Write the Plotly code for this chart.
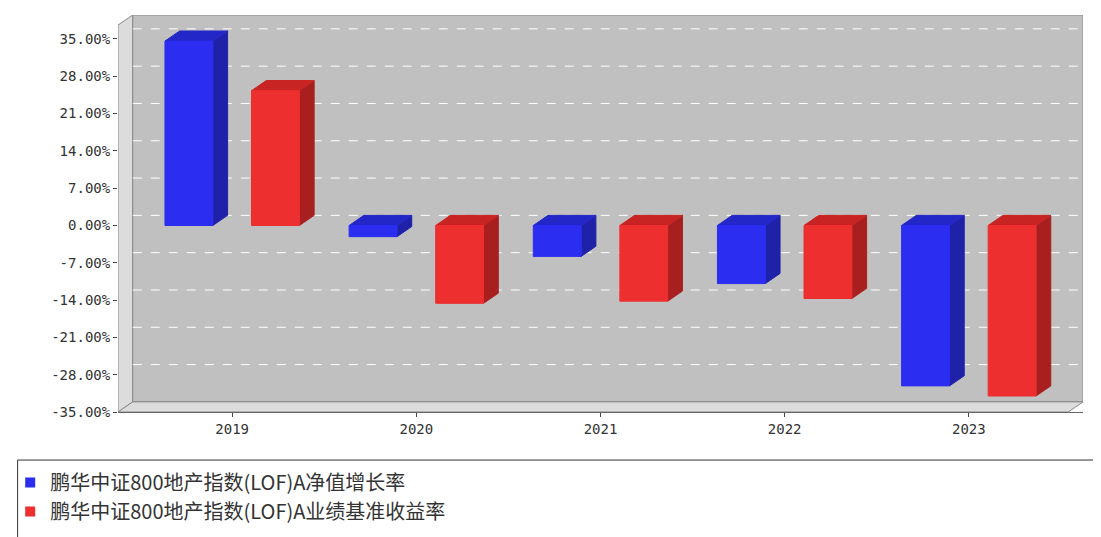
import plotly.graph_objects as go

years = ["2019", "2020", "2021", "2022", "2023"]
nav_growth = [34.6, -2.1, -5.8, -10.9, -30.1]
benchmark = [25.3, -14.6, -14.2, -13.7, -32.0]
names = ["鹏华中证800地产指数(LOF)A净值增长率", "鹏华中证800地产指数(LOF)A业绩基准收益率"]
ticks = [35, 28, 21, 14, 7, 0, -7, -14, -21, -28, -35]

FONT = "Noto Sans CJK SC"
DX, DY = 0.08, 1.9   # fake depth
W = 0.26
series = [
    (nav_growth, -0.235, "#2b2ef0", "#1f22a8", "#2427c8"),
    (benchmark, 0.235, "#ee2f2f", "#a81f1f", "#c82424"),
]


def poly(fig, xs, ys, fill, line):
    fig.add_trace(go.Scatter(x=xs, y=ys, fill="toself", fillcolor=fill, line=dict(color=line, width=1),
                             mode="lines", showlegend=False, hoverinfo="skip"))


fig = go.Figure()

# back wall + floor
x0, x1 = -0.62, 4.62
poly(fig, [x0, x0 + DX, x0 + DX, x0, x0], [-35, -35 + DY, 39.5, 37.6, -35], "#dcdcdc", "#888")
poly(fig, [x0 + DX, x1, x1, x0 + DX, x0 + DX], [-35 + DY, -35 + DY, 39.5, 39.5, -35 + DY], "#c0c0c0", "#888")
poly(fig, [x0, x0 + DX, x1, x1 - DX, x0], [-35, -35 + DY, -35 + DY, -35, -35], "#dcdcdc", "#888")
for t in ticks[:-1]:
    fig.add_trace(go.Scatter(x=[x0 + DX, x1], y=[t + DY, t + DY], mode="lines",
                             line=dict(color="white", width=1, dash="dash"),
                             showlegend=False, hoverinfo="skip"))

for (vals, off, front, side, top), name in zip(series, names):
    for i, v in enumerate(vals):
        l, r = i + off - W / 2, i + off + W / 2
        hi = max(v, 0)
        poly(fig, [r, r + DX, r + DX, r, r], [0, DY, v + DY, v, 0], side, side)
        poly(fig, [l, l + DX, r + DX, r, l], [hi, hi + DY, hi + DY, hi, hi], top, top)
        poly(fig, [l, r, r, l, l], [0, 0, v, v, 0], front, front)
    fig.add_trace(go.Scatter(x=[None], y=[None], mode="markers", name=name,
                             marker=dict(symbol="square", size=10, color=front)))

fig.add_shape(type="rect", xref="paper", yref="paper", x0=-0.104, x1=1.032, y0=-0.121, y1=-0.336,
              line=dict(color="#333", width=1))

fig.update_layout(
    width=1101, height=537,
    margin=dict(l=110, r=26, t=7, b=133, autoexpand=False),
    paper_bgcolor="white", plot_bgcolor="white",
    font=dict(family="DejaVu Sans Mono", size=14, color="#333"),
    showlegend=True,
    legend=dict(x=0.002, y=1 - 455 / 537, xref="container", yref="container",
                xanchor="left", yanchor="top", borderwidth=0, bgcolor="rgba(0,0,0,0)",
                font=dict(family=FONT, size=20, color="#333"), itemwidth=30, tracegroupgap=0),
    xaxis=dict(range=[x0, x1], tickvals=list(range(5)), ticktext=years, showgrid=False,
               zeroline=False, showline=True, linecolor="#666", ticks="outside", ticklen=4),
    yaxis=dict(range=[-35, 39.5], tickvals=ticks, ticktext=[f"{t:.2f}%" for t in ticks],
               showgrid=False, zeroline=False, showline=False, ticks="outside", ticklen=4),
)

fig.write_html("out.html")
